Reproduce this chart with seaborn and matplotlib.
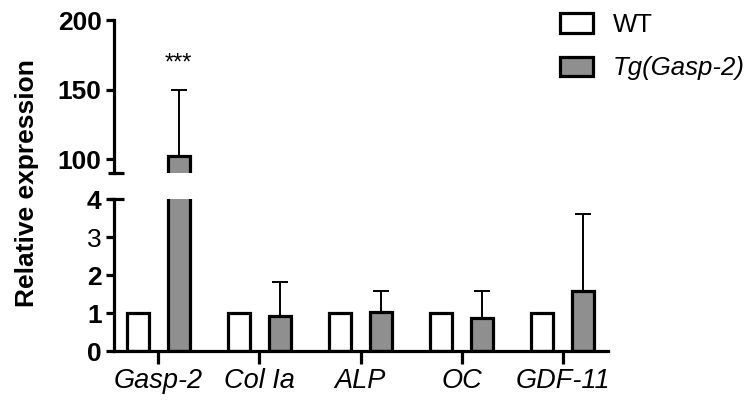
import matplotlib
matplotlib.use("Agg")
import matplotlib.pyplot as plt
import matplotlib.transforms as mtransforms
from matplotlib.patches import Patch
import seaborn as sns
import pandas as pd

# Expression data (relative to WT)
genes = ["Gasp-2", "Col Ia", "ALP", "OC", "GDF-11"]
groups = ["WT", "Tg(Gasp-2)"]
wt_mean = [1.0, 1.0, 1.0, 1.0, 1.0]
tg_mean = [102.0, 0.92, 1.03, 0.88, 1.58]
tg_sd = [48.0, 0.90, 0.55, 0.70, 2.04]
significance = ["***", "", "", "", ""]

sns.set_theme(style="ticks", rc={
    "text.color": "black", "axes.edgecolor": "black",
    "axes.labelcolor": "black", "xtick.color": "black",
    "ytick.color": "black"})
plt.rcParams["font.family"] = ["Liberation Sans", "DejaVu Sans"]

df = pd.DataFrame({
    "gene": genes * 2,
    "group": [groups[0]] * len(genes) + [groups[1]] * len(genes),
    "value": wt_mean + tg_mean,
})

palette = {groups[0]: "white", groups[1]: "#8f8f8f"}
LW = 2.3

fig = plt.figure(figsize=(7.56, 4.03), dpi=100)
ax_top = fig.add_axes([0.1508, 0.571, 0.6535, 0.379])
ax_bot = fig.add_axes([0.1508, 0.129, 0.6535, 0.377])

for ax in (ax_top, ax_bot):
    sns.barplot(data=df, x="gene", y="value", hue="group", order=genes,
                hue_order=groups, palette=palette, edgecolor="black",
                linewidth=LW, width=0.8, gap=0.45, errorbar=None,
                legend=False, ax=ax)
    # upward SD bars on the transgenic bars
    tg_bars = ax.patches[len(genes):2 * len(genes)]
    xs = [b.get_x() + b.get_width() / 2 for b in tg_bars]
    ax.errorbar(xs, tg_mean, yerr=[[0] * len(tg_sd), tg_sd], fmt="none",
                ecolor="black", elinewidth=1.4, capsize=5.5, capthick=1.4,
                zorder=1)
    ax.set_xlim(-0.44, 4.45)
    ax.set_xlabel("")
    ax.set_ylabel("")
    ax.tick_params(axis="both", width=LW, length=6, labelsize=19, pad=3)
    for s in ("top", "right"):
        ax.spines[s].set_visible(False)
    for s in ("left", "bottom"):
        ax.spines[s].set_linewidth(LW)
    for lab in ax.get_yticklabels():
        lab.set_fontweight("bold")

# upper segment of the broken axis
ax_top.set_ylim(90, 200)
ax_top.set_yticks([100, 150, 200])
ax_top.spines["bottom"].set_visible(False)
ax_top.tick_params(axis="x", bottom=False, labelbottom=False)
for x, txt in zip(range(len(genes)), significance):
    if txt:
        ax_top.text(x + 0.2, 161, txt, ha="center", va="bottom", fontsize=17)

# lower segment
ax_bot.set_ylim(0, 4)
ax_bot.set_yticks([0, 1, 2, 3, 4])
ax_bot.tick_params(axis="x", length=9, labelsize=19.5)
for lab in ax_bot.get_xticklabels():
    lab.set_fontstyle("italic")
    lab.set_fontweight("normal")

# break marks across the left spine
for ax, yv in ((ax_top, 90), (ax_bot, 4)):
    tr = mtransforms.blended_transform_factory(ax.transAxes, ax.transData)
    ax.plot([-0.012, 0.021], [yv, yv], color="black", lw=LW,
            transform=tr, clip_on=False, solid_capstyle="butt")

fig.text(0.036, 1 - 183 / 403, "Relative expression", rotation=90,
         ha="center", va="center", fontsize=19, fontweight="bold")

handles = [Patch(facecolor=palette[g], edgecolor="black", linewidth=LW)
           for g in groups]
leg = fig.legend(handles, groups, loc="upper left",
                 bbox_to_anchor=(0.71, 1.025), frameon=False, fontsize=18.5,
                 handlelength=1.3, handleheight=0.8, handletextpad=0.75,
                 labelspacing=0.75)
leg.get_texts()[1].set_fontstyle("italic")

fig.savefig("out.png", dpi=100)
